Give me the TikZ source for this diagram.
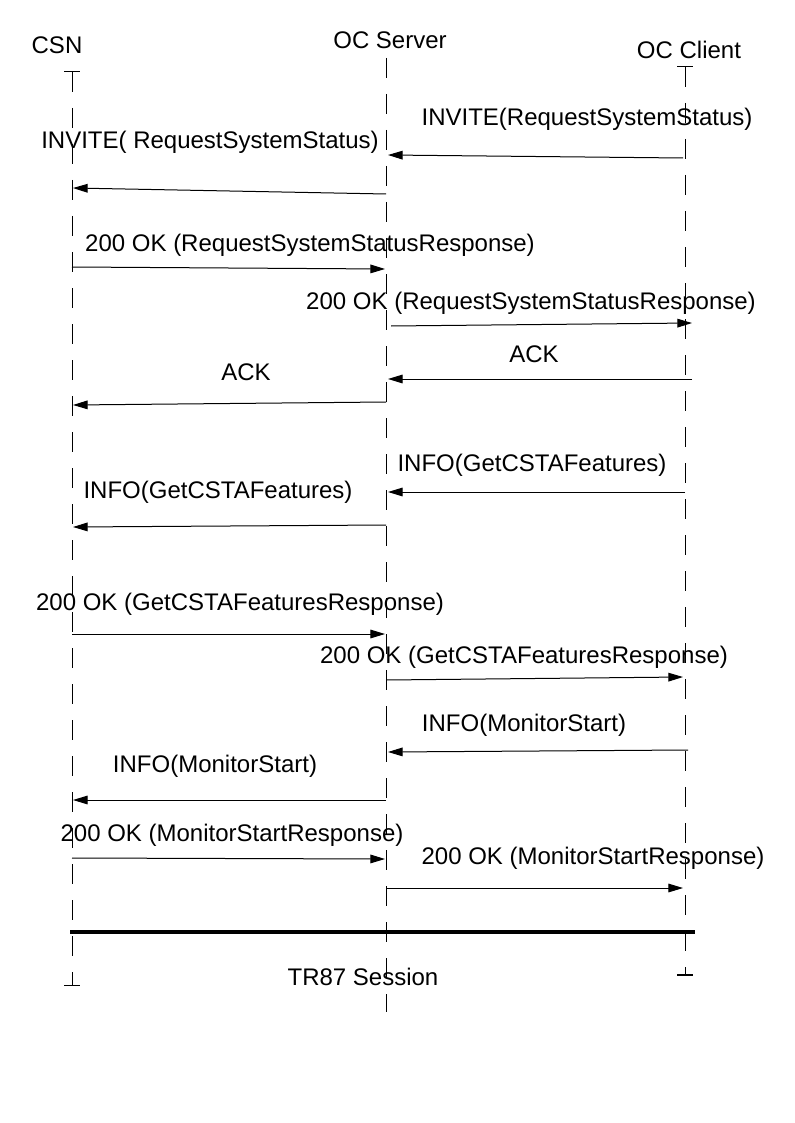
\documentclass[tikz,border=0pt]{standalone}
\usepackage{fontspec}
\setmainfont{Liberation Sans}
\usetikzlibrary{arrows.meta}
\begin{document}
\begin{tikzpicture}[x=0.75pt,y=-0.75pt,
  lbl/.style={font=\fontsize{18}{21}\selectfont, inner sep=0pt, anchor=center, yshift=-1.5pt},
  life/.style={line width=0.75pt, dash pattern=on 15pt off 12pt},
  msg/.style={line width=0.75pt, -{Triangle[length=11pt,width=6.5pt]}},
  tickline/.style={line width=0.75pt},
  sessionline/.style={line width=3pt}]
\useasboundingbox[fill=white] (0,0) rectangle (794,1123);

% participants
\node[lbl] (csn) at (57,43) {CSN};
\node[lbl] (srv) at (390,38) {OC Server};
\node[lbl] (cli) at (689,48) {OC Client};

% lifeline ends
\coordinate (csnTop) at (72,72);
\coordinate (csnBot) at (72,985);
\coordinate (srvTop) at (386,58);
\coordinate (srvBot) at (386,1012);
\coordinate (cliTop) at (685,67);
\coordinate (cliBot) at (685,975);

\draw[tickline] ([xshift=-6]csnTop) -- ([xshift=6]csnTop);
\draw[tickline] ([xshift=-6]cliTop) -- ([xshift=6]cliTop);
\draw[tickline] ([xshift=-6]csnBot) -- ([xshift=6]csnBot);
\draw[line width=1.5pt] ([xshift=-6]cliBot) -- ([xshift=6]cliBot);

\draw[life] (csnTop) -- (csnBot);
\draw[life] (srvTop) -- (srvBot);
\draw[life] (cliTop) -- (cliBot);

% message 1
\coordinate (a1) at (683,158); \coordinate (b1) at (388,155);
\draw[msg] (a1) -- (b1);
\node[lbl] (l1) at (587,117) {INVITE(RequestSystemStatus)};
% message 2
\coordinate (a2) at (386,194); \coordinate (b2) at (73,188);
\draw[msg] (a2) -- (b2);
\node[lbl] (l2) at (210,140) {INVITE( RequestSystemStatus)};
% message 3
\coordinate (a3) at (72,267); \coordinate (b3) at (385,269);
\draw[msg] (a3) -- (b3);
\node[lbl] (l3) at (310,243) {200 OK (RequestSystemStatusResponse)};
% message 4
\coordinate (a4) at (391,326); \coordinate (b4) at (692,323);
\draw[msg] (a4) -- (b4);
\node[lbl] (l4) at (531,301) {200 OK (RequestSystemStatusResponse)};
% message 5
\coordinate (a5) at (692,379); \coordinate (b5) at (388,379);
\draw[msg] (a5) -- (b5);
\node[lbl] (l5) at (534,352) {ACK};
% message 6
\coordinate (a6) at (386,402); \coordinate (b6) at (73,405);
\draw[msg] (a6) -- (b6);
\node[lbl] (l6) at (246,370) {ACK};
% message 7
\coordinate (a7) at (685,492); \coordinate (b7) at (388,492);
\draw[msg] (a7) -- (b7);
\node[lbl] (l7) at (532,463) {INFO(GetCSTAFeatures)};
% message 8
\coordinate (a8) at (386,525); \coordinate (b8) at (73,527);
\draw[msg] (a8) -- (b8);
\node[lbl] (l8) at (218,490) {INFO(GetCSTAFeatures)};
% message 9
\coordinate (a9) at (72,634); \coordinate (b9) at (385,634);
\draw[msg] (a9) -- (b9);
\node[lbl] (l9) at (240,602) {200 OK (GetCSTAFeaturesResponse)};
% message 10
\coordinate (a10) at (386,680); \coordinate (b10) at (683,677);
\draw[msg] (a10) -- (b10);
\node[lbl] (l10) at (524,655) {200 OK (GetCSTAFeaturesResponse)};
% message 11
\coordinate (a11) at (688,750); \coordinate (b11) at (388,752);
\draw[msg] (a11) -- (b11);
\node[lbl] (l11) at (524,723) {INFO(MonitorStart)};
% message 12
\coordinate (a12) at (386,800); \coordinate (b12) at (73,800);
\draw[msg] (a12) -- (b12);
\node[lbl] (l12) at (215,764) {INFO(MonitorStart)};
% message 13
\coordinate (a13) at (72,858); \coordinate (b13) at (385,859);
\draw[msg] (a13) -- (b13);
\node[lbl] (l13) at (232,833) {200 OK (MonitorStartResponse)};
% message 14
\coordinate (a14) at (386,888); \coordinate (b14) at (683,888);
\draw[msg] (a14) -- (b14);
\node[lbl] (l14) at (593,856) {200 OK (MonitorStartResponse)};

% session bar
\coordinate (s1) at (70,932); \coordinate (s2) at (695,932);
\draw[sessionline] (s1) -- (s2);
\node[lbl] (tr) at (363,975) {TR87 Session};
\end{tikzpicture}
\end{document}
